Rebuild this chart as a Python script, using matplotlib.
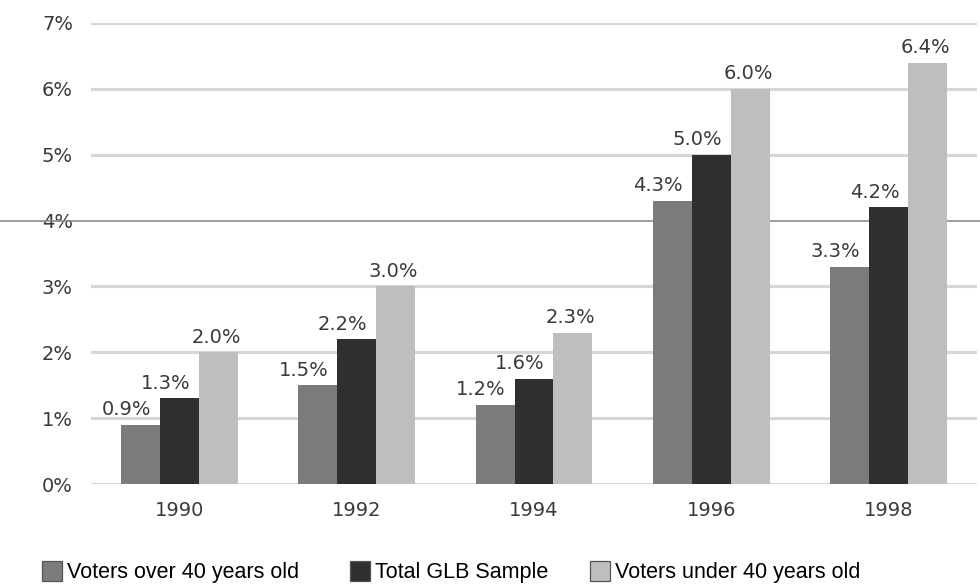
import matplotlib
matplotlib.use("Agg")
import matplotlib.pyplot as plt
import numpy as np
from matplotlib.patches import Patch

years = ["1990", "1992", "1994", "1996", "1998"]
series_names = ["Voters over 40 years old", "Total GLB Sample", "Voters under 40 years old"]
over40 = [0.9, 1.5, 1.2, 4.3, 3.3]
total = [1.3, 2.2, 1.6, 5.0, 4.2]
under40 = [2.0, 3.0, 2.3, 6.0, 6.4]
y_ticks = [0, 1, 2, 3, 4, 5, 6, 7]

colors = ["#7b7b7b", "#2f2f2f", "#bebebe"]
label_shift = [-10, -10, -1.5]  # horizontal nudge of value labels, in points

W, H = 980, 584
fig = plt.figure(figsize=(W / 100, H / 100), dpi=100)
ax = fig.add_axes([91 / W, 1 - 484 / H, 886 / W, (484 - 23) / H])

x = np.arange(len(years))
width = 0.22
for i, (vals, col) in enumerate(zip([over40, total, under40], colors)):
    pos = x + (i - 1) * width
    bars = ax.bar(pos, vals, width=width, color=col, zorder=3, linewidth=0)
    for b, v in zip(bars, vals):
        ax.annotate(f"{v:.1f}%", (b.get_x() + b.get_width() / 2, v),
                    xytext=(label_shift[i], 4), textcoords="offset points",
                    ha="center", va="bottom", fontsize=14, color="#3a3a3a",
                    family="DejaVu Sans", zorder=4)

ax.set_xlim(-0.5, len(years) - 0.5)
ax.set_ylim(0, 7)
ax.set_yticks(y_ticks)
ax.set_yticklabels([f"{t}%" for t in y_ticks])
ax.set_xticks(x)
ax.set_xticklabels(years)
ax.tick_params(axis="both", length=0, labelsize=14, labelcolor="#3a3a3a")
ax.tick_params(axis="y", pad=13)
ax.tick_params(axis="x", pad=12)

for t in y_ticks:
    if t == 4:
        continue
    ax.axhline(t, color="#d6d6d6", linewidth=2.2, zorder=1)
ax.axhline(4, xmin=-91 / 886, xmax=1.01, color="#8a8a8a", linewidth=1.2,
           zorder=2, clip_on=False)

for s in ax.spines.values():
    s.set_visible(False)

# legend entries placed individually along the bottom edge
legend_x = [42, 350, 590]
for name, col, lx in zip(series_names, colors, legend_x):
    h = Patch(facecolor=col, edgecolor="#555555", linewidth=0.9)
    fig.legend([h], [name], loc="center left",
               bbox_to_anchor=(lx / W, 12 / H), frameon=False,
               prop={"family": "Liberation Sans", "size": 15.5},
               handlelength=0.95, handleheight=1.1, handletextpad=0.22,
               borderpad=0, borderaxespad=0)

fig.savefig("out.png", dpi=100, facecolor="white")
